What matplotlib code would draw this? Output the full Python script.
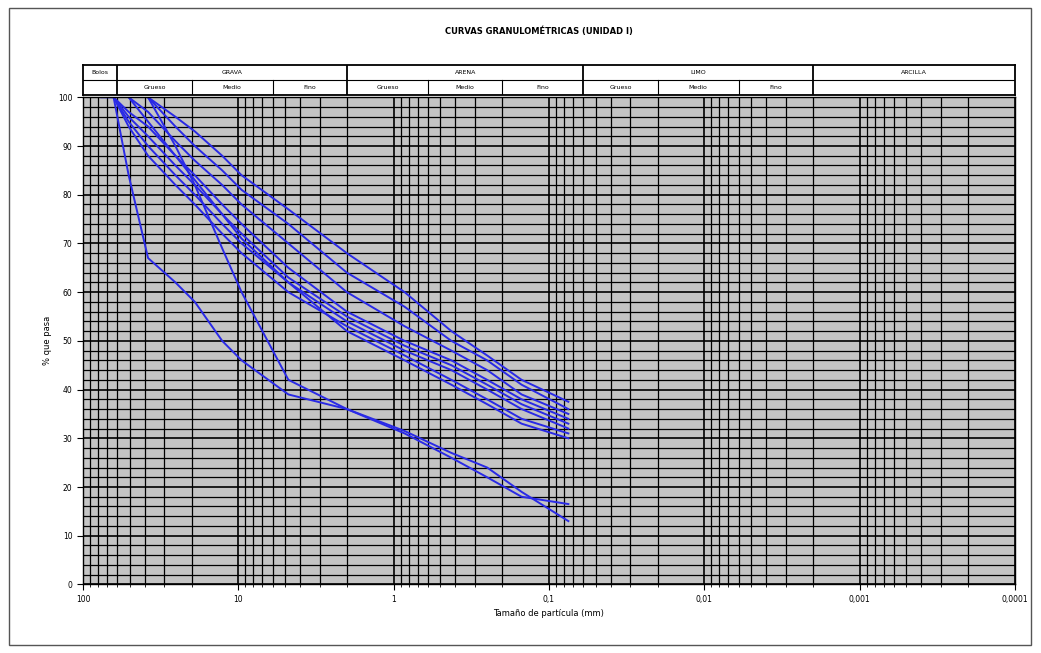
import numpy as np
import matplotlib.pyplot as plt
from matplotlib.patches import Rectangle
from matplotlib.ticker import FixedLocator, LogLocator, NullFormatter

# tamices (mm) y % que pasa de cada muestra
sizes = [76.2, 63.5, 50.8, 38.1, 25.4, 19.05, 12.7, 9.525, 4.76, 2.0, 0.85, 0.425, 0.25, 0.15, 0.075]
nan = np.nan
muestras = [
    [nan, nan, nan, 100, 96, 93, 88, 84, 77, 68, 60, 52, 47, 42, 37.5],
    [nan, nan, nan, 100, 94, 90, 85, 81, 74, 64, 57, 50, 46, 41, 36],
    [nan, nan, 100, 97, 91, 87, 82, 78, 70, 60, 53, 48, 44, 39, 35],
    [nan, 100, 97, 94, 88, 84, 78, 74, 65, 56, 50, 46, 42, 38, 34],
    [nan, 100, 96, 92, 86, 82, 76, 72, 63, 55, 49, 45, 41, 37, 33],
    [100, 100, 95, 90, 84, 80, 74, 70, 62, 54, 48, 44, 40, 36, 32],
    [nan, 100, 94, 88, 82, 78, 72, 68, 60, 53, 47, 42, 38, 34, 31],
    [nan, nan, 100, 95, 88, 83, 76, 71, 62, 52, 46, 41, 37, 33, 30],
    [nan, 100, 84, 67, 62, 58, 50, 46, 39, 36, 31, 26, 22, 18, 16.5],
    [nan, nan, nan, 100, 90, 82, 69, 60, 42, 36, 31.5, 27, 24, 19, 13],
]

# limites de fracciones (mm)
bolos = (100, 60)
grupos = [("GRAVA", 60, 2), ("ARENA", 2, 0.06), ("LIMO", 0.06, 0.002)]
subgrupos = ["Grueso", "Medio", "Fino"]
cortes_sub = {"GRAVA": [60, 20, 6, 2], "ARENA": [2, 0.6, 0.2, 0.06], "LIMO": [0.06, 0.02, 0.006, 0.002]}

xticks = [100, 10, 1, 0.1, 0.01, 0.001, 0.0001]
xlabels = ["100", "10", "1", "0,1", "0,01", "0,001", "0,0001"]

fig = plt.figure(figsize=(10.41, 6.53), dpi=100)
fig.patches.append(Rectangle((0.009, 0.012), 0.981, 0.975, transform=fig.transFigure,
                             fill=False, edgecolor="#555555", linewidth=1.0))

ax = fig.add_axes([0.0797, 0.105, 0.8953, 0.746])
ax.set_facecolor("#c4c4c4")
ax.set_xscale("log")
ax.set_xlim(100, 0.0001)
ax.set_ylim(0, 100)

ax.xaxis.set_major_locator(FixedLocator(xticks))
ax.xaxis.set_minor_locator(LogLocator(base=10, subs=np.arange(2, 10)))
ax.xaxis.set_minor_formatter(NullFormatter())
ax.set_xticks(xticks)
ax.set_xticklabels(xlabels)
ax.set_yticks(np.arange(0, 101, 10))
ax.yaxis.set_minor_locator(FixedLocator(np.arange(0, 101, 2)))
ax.tick_params(axis="both", which="major", labelsize=5.5, length=4, color="black")
ax.tick_params(axis="both", which="minor", length=2)
ax.tick_params(axis="y", which="minor", length=0)

ax.grid(True, which="major", color="black", linewidth=1.2)
ax.grid(True, which="minor", color="black", linewidth=0.9)
ax.set_axisbelow(True)

for m in muestras:
    m = np.array(m, dtype=float)
    ok = ~np.isnan(m)
    ax.plot(np.array(sizes)[ok], m[ok], color="#2a2ae6", linewidth=1.4)

ax.set_xlabel("Tamaño de partícula (mm)", fontsize=6)
ax.set_ylabel("% que pasa", fontsize=6)
for s in ax.spines.values():
    s.set_linewidth(1.0)

# cabecera de fracciones granulometricas
hd = fig.add_axes([0.0797, 0.855, 0.8953, 0.046])
hd.set_xscale("log")
hd.set_xlim(100, 0.0001)
hd.set_ylim(0, 2)
hd.set_xticks([])
hd.set_yticks([])
hd.minorticks_off()
for s in hd.spines.values():
    s.set_linewidth(1.3)
hd.axhline(1, xmin=0, xmax=1, color="black", linewidth=0.8)
hd.axvline(bolos[1], color="black", linewidth=1.3)
hd.fill_between([bolos[0], bolos[1]], 0, 2, color="white")
hd.text(np.sqrt(bolos[0] * bolos[1]), 1.5, "Bolos", ha="center", va="center", fontsize=4.5)
for nombre, a, b in grupos:
    hd.axvline(b, color="black", linewidth=1.3)
    hd.text(np.sqrt(a * b), 1.5, nombre, ha="center", va="center", fontsize=4.5)
    c = cortes_sub[nombre]
    for i, sub in enumerate(subgrupos):
        hd.text(np.sqrt(c[i] * c[i + 1]), 0.5, sub, ha="center", va="center", fontsize=4.5)
        if i > 0:
            hd.plot([c[i], c[i]], [0, 1], color="black", linewidth=0.8)
hd.text(np.sqrt(0.002 * 0.0001), 1.5, "ARCILLA", ha="center", va="center", fontsize=4.5)

fig.text(0.518, 0.952, "CURVAS GRANULOMÉTRICAS (UNIDAD I)", ha="center", va="center",
         fontsize=6, fontweight="bold")

fig.savefig("out.png", dpi=100)
